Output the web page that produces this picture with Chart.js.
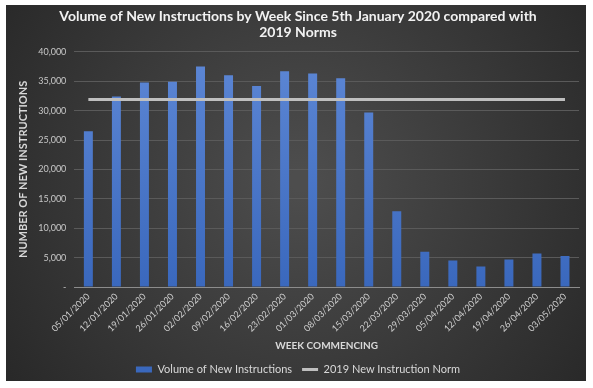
<!DOCTYPE html>
<html>
<head>
<meta charset="utf-8">
<script src="https://cdn.jsdelivr.net/npm/chart.js@4/dist/chart.umd.min.js"></script>
<style>
  html, body { margin: 0; padding: 0; background: #ffffff; }
  #wrap { width: 593px; height: 388px; }
</style>
</head>
<body>
<div id="wrap"><canvas id="volChart" width="593" height="388"></canvas></div>
<script>
// week commencing labels
var weeks = ["05/01/2020","12/01/2020","19/01/2020","26/01/2020","02/02/2020","09/02/2020",
             "16/02/2020","23/02/2020","01/03/2020","08/03/2020","15/03/2020","22/03/2020",
             "29/03/2020","05/04/2020","12/04/2020","19/04/2020","26/04/2020","03/05/2020"];
// volume of new instructions
var volumes = [26500, 32400, 34800, 34900, 37500, 36000, 34200, 36700, 36300, 35500,
               29700, 12900, 6000, 4500, 3500, 4700, 5700, 5300];
// 2019 norm, flat line
var norm2019 = [31900, 31900, 31900, 31900, 31900, 31900, 31900, 31900, 31900, 31900,
                31900, 31900, 31900, 31900, 31900, 31900, 31900, 31900];
var yTicks = [0, 5000, 10000, 15000, 20000, 25000, 30000, 35000, 40000];

var fontFam = "Lato, 'Open Sans', sans-serif";

// dark panel with a soft radial glow behind the whole chart
var panelBg = {
  id: 'panelBg',
  beforeDraw: function(chart){
    var c = chart.ctx;
    var x0 = 6, y0 = 5, w = 580, h = 376;
    var g = c.createRadialGradient(300, 180, 10, 300, 180, 360);
    g.addColorStop(0, '#4d4d4d');
    g.addColorStop(1, '#282828');
    c.save();
    c.fillStyle = g;
    c.fillRect(x0, y0, w, h);
    c.restore();
  }
};

function barFill(ctx){
  var chart = ctx.chart;
  var area = chart.chartArea;
  if(!area){ return '#4472c4'; }
  var g = chart.ctx.createLinearGradient(0, area.top, 0, area.bottom);
  g.addColorStop(0, '#5d87d5');
  g.addColorStop(1, '#3a68bd');
  return g;
}

var ctx = document.getElementById("volChart");
var myChart = new Chart(ctx, {
  type: 'bar',
  data: {
    labels: weeks,
    datasets: [
      {
        type: 'bar',
        label: 'Volume of New Instructions',
        data: volumes,
        backgroundColor: barFill,
        borderWidth: 0,
        barPercentage: 0.32,
        categoryPercentage: 1.0,
        pointStyle: 'rect',
        order: 2
      },
      {
        type: 'line',
        label: '2019 New Instruction Norm',
        data: norm2019,
        borderColor: '#bfbfbf',
        backgroundColor: '#bfbfbf',
        borderWidth: 3,
        pointRadius: 0,
        pointStyle: 'line',
        fill: false,
        order: 1
      }
    ]
  },
  plugins: [panelBg],
  options: {
    responsive: false,
    animation: false,
    layout: { padding: { left: 17, right: 14, top: 8, bottom: 3 } },
    plugins: {
      title: {
        display: true,
        text: ['Volume of New Instructions by Week Since 5th January 2020 compared with', '2019 Norms'],
        color: '#f2f2f2',
        font: { family: fontFam, size: 14, weight: 'bold', lineHeight: 1.1 },
        padding: { top: 1, bottom: 12 }
      },
      legend: {
        position: 'bottom',
        labels: {
          color: '#d9d9d9',
          font: { family: fontFam, size: 11 },
          usePointStyle: true,
          pointStyleWidth: 16,
          boxHeight: 6,
          padding: 10,
          sort: function(a, b){ return a.datasetIndex - b.datasetIndex; }
        }
      },
      tooltip: { enabled: false }
    },
    scales: {
      x: {
        offset: true,
        grid: { display: false, drawTicks: false },
        border: { display: true, color: '#8c8c8c', width: 1 },
        ticks: {
          color: '#d0d0d0',
          font: { family: fontFam, size: 9 },
          minRotation: 45,
          maxRotation: 45,
          autoSkip: false,
          padding: 4
        },
        title: {
          display: true,
          text: 'WEEK COMMENCING',
          color: '#d9d9d9',
          font: { family: fontFam, size: 10, weight: 'bold' },
          padding: { top: 2, bottom: 2 }
        }
      },
      y: {
        min: 0,
        max: 40000,
        afterBuildTicks: function(axis){
          axis.ticks = yTicks.map(function(v){ return { value: v }; });
        },
        grid: { color: '#5a5a5a', lineWidth: 1, drawTicks: false },
        border: { display: false },
        ticks: {
          color: '#c8c8c8',
          font: { family: fontFam, size: 9 },
          padding: 8,
          callback: function(v){
            if(v === 0){ return '-'; }
            return v.toLocaleString('en-GB');
          }
        },
        title: {
          display: true,
          text: 'NUMBER OF NEW INSTRUCTIONS',
          color: '#d9d9d9',
          font: { family: fontFam, size: 11, weight: 'bold' },
          padding: { top: 0, bottom: 0 }
        }
      }
    }
  }
});
</script>
</body>
</html>
